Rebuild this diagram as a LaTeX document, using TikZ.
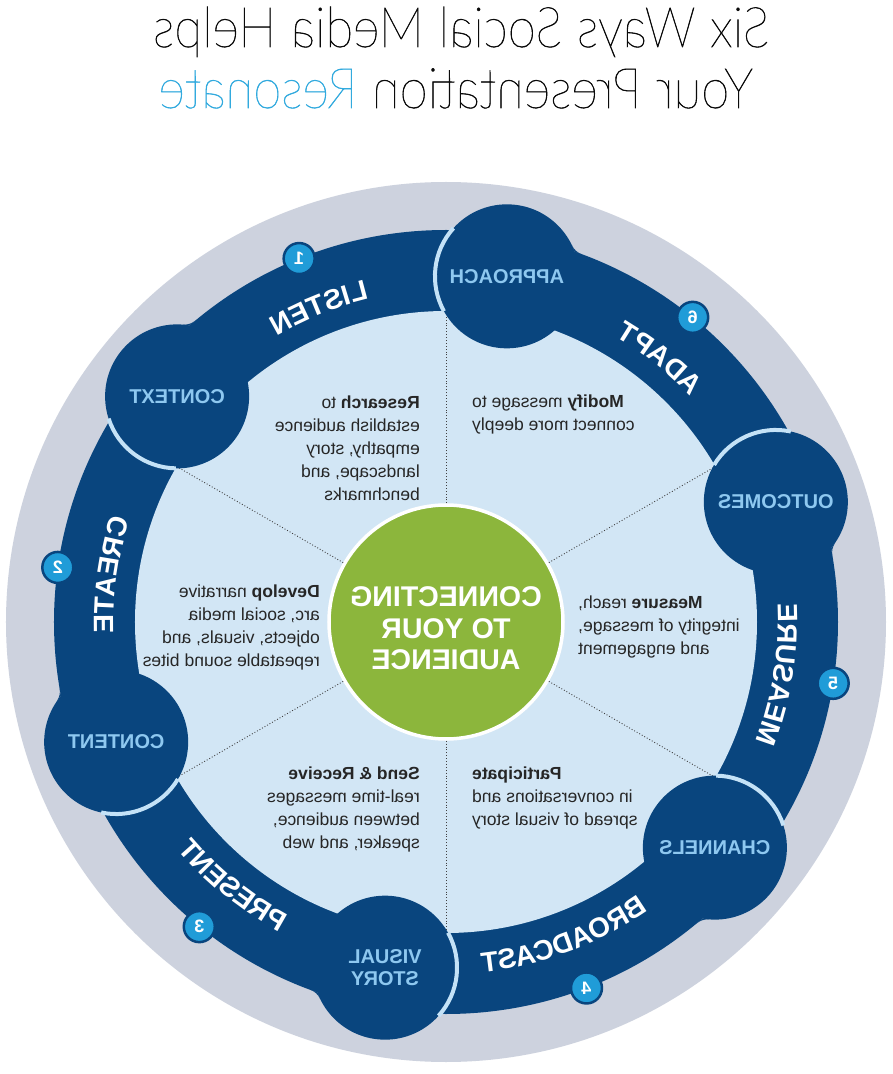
\documentclass[tikz,border=0pt]{standalone}
\usepackage{fontspec}
\setmainfont{Liberation Sans}
\IfFontExistsTF{Lato Hairline}{\newfontfamily\titlefont{Lato Hairline}[FakeBold=1]}{\newfontfamily\titlefont{Lato Light}}
\usepackage{graphicx}
\usetikzlibrary{decorations.text}
\definecolor{ringblue}{RGB}{9,69,126}
\definecolor{discblue}{RGB}{210,230,245}
\definecolor{rimgrey}{RGB}{205,210,222}
\definecolor{coregreen}{RGB}{140,182,60}
\definecolor{badgeblue}{RGB}{32,156,216}
\definecolor{hubtext}{RGB}{142,200,240}
\definecolor{seamblue}{RGB}{196,226,247}
\definecolor{titlegrey}{RGB}{10,10,10}
\definecolor{titlecyan}{RGB}{50,170,222}

\begin{document}
\begin{tikzpicture}[x=1pt, y=1pt]
    \tikzset{
        flip/.style={xscale=-1},
        hub/.style={flip, circle, fill=ringblue, minimum size=144pt, inner sep=0pt, outer sep=0pt, text=hubtext, font=\fontsize{20}{22}\selectfont\bfseries, align=center},
        badge/.style={flip, circle, fill=badgeblue, draw=ringblue, line width=2.5pt, minimum size=31pt, inner sep=0pt, text=white, font=\fontsize{18}{18}\selectfont\bfseries},
        blurb/.style={flip, inner sep=0pt, font=\fontsize{17.5}{23}\selectfont, text=black!85},
        headline/.style={xscale=-0.91, anchor=base, text=titlegrey, font=\titlefont\fontsize{56}{60}\selectfont},
        seam/.style={draw=seamblue, line width=4pt},
        spoke/.style={dotted, line width=0.9pt, black!75},
        ringtext/.style={decorate, decoration={text effects along path, text={#1}, text align=center,
            text effects/.cd, text along path, reverse text, character command=\reflectbox,
            every character/.style={font=\fontsize{28}{28}\selectfont\bfseries, text=white}}},
    }
    \useasboundingbox (-446,-452) rectangle (447,622);
    \fill[white] (-446,-452) rectangle (447,622);

    % rings
    \fill[rimgrey] (0,0) circle[radius=440];
    \fill[ringblue] (0,0) circle[radius=392];
    \fill[discblue] (0,0) circle[radius=311];

    % centre and spokes
    \node[circle, fill=coregreen, draw=white, line width=3.5pt, minimum size=234pt] (core) at (0,0) {};
    \foreach \a in {30,90,150,210,270,330}
        \draw[spoke] (core.\a) -- (\a:311);

    % hubs on the ring
    \node[hub] (approach) at (80:351) {APPROACH};
    \node[hub] (outcomes) at (20:351) {OUTCOMES};
    \node[hub] (channels) at (-40:351) {CHANNELS};
    \node[hub] (visual) at (-100:351) {VISUAL\\STORY};
    \node[hub] (content) at (-160:351) {CONTENT};
    \node[hub] (context) at (140:351) {CONTEXT};
    \foreach \hub/\a in {approach/80, outcomes/20, channels/-40, visual/-100, content/-160, context/140}{
        \draw[seam] (\hub.center) ++(\a+58:72) arc[start angle=\a+58, end angle=\a+129, radius=72];
        % fillet where the hub meets the outer edge
        \fill[ringblue, rotate=\a] (385.7,-69.95) -- (387,-62.4) -- (392.9,-58.5)
            arc[start angle=125.6, end angle=169.7, radius=18] -- cycle;
    }

    % ring labels
    \path[ringtext=LISTEN] (152:332) arc[start angle=152, end angle=72, radius=332];
    \path[ringtext=ADAPT] (91:332) arc[start angle=91, end angle=11, radius=332];
    \path[ringtext=MEASURE] (31:332) arc[start angle=31, end angle=-49, radius=332];
    \path[ringtext=CREATE] (212:332) arc[start angle=212, end angle=132, radius=332];
    \path[ringtext=BROADCAST] (-109.5:352) arc[start angle=-109.5, end angle=-29.5, radius=352];
    \path[ringtext=PRESENT] (-169:352) arc[start angle=-169, end angle=-89, radius=352];

    % step numbers
    \node[badge] (b1) at (112:392) {1};
    \node[badge] (b2) at (172:392) {2};
    \node[badge] (b3) at (-129:392) {3};
    \node[badge] (b4) at (-69:392) {4};
    \node[badge] (b5) at (-9:392) {5};
    \node[badge] (b6) at (51:392) {6};

    \node[flip, text=white, align=center, font=\fontsize{28.5}{31.5}\selectfont\bfseries] (coretext) at (0,-6.5) {CONNECTING\\TO YOUR\\AUDIENCE};

    % descriptions
    \node[blurb, align=left, anchor=north west] (research) at (-26,226.5) {\textbf{Research} to\\establish audience\\empathy, story\\landscape, and\\benchmarks};
    \node[blurb, align=right, anchor=north east] (modify) at (26,227) {\textbf{Modify} message to\\connect more deeply};
    \node[blurb, align=left, anchor=north west] (develop) at (-126,37) {\textbf{Develop} narrative\\arc, social media\\objects, visuals, and\\repeatable sound bites};
    \node[blurb, align=right, anchor=north east] (measure) at (132,26.5) {\textbf{Measure} reach,\\integrity of message,\\and engagement};
    \node[blurb, align=left, anchor=north west] (send) at (-26,-145) {\textbf{Send \& Receive}\\real-time messages\\between audience,\\speaker, and web};
    \node[blurb, align=right, anchor=north east] (participate) at (26,-145) {\textbf{Participate}\\in conversations and\\spread of visual story};

    % title
    \node[headline] (title1) at (15.5,575) {Six Ways Social Media Helps};
    \node[headline] (title2) at (10,514) {Your Presentation \textcolor{titlecyan}{Resonate}};
\end{tikzpicture}
\end{document}
